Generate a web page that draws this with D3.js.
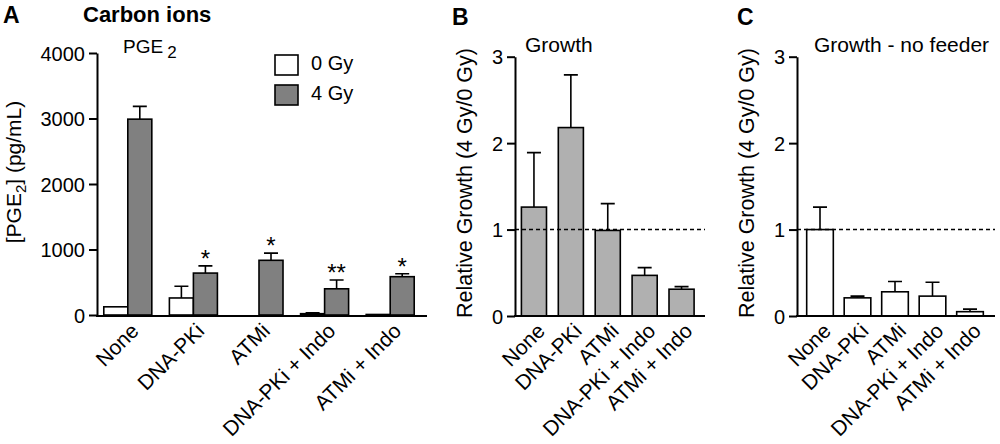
<!DOCTYPE html>
<html>
<head>
<meta charset="utf-8">
<script src="https://cdn.jsdelivr.net/npm/d3@7"></script>
<style>
  body { margin: 0; background: #fff; }
  svg text { font-family: "Liberation Sans", Arial, sans-serif; fill: #000; }
</style>
</head>
<body>
<script>
const groups = ["None", "DNA-PKi", "ATMi", "DNA-PKi + Indo", "ATMi + Indo"];

// panel A - PGE2 (pg/mL)
const pge0 = [125, 260, 0, 20, 8];
const pge0Err = [0, 180, 0, 14, 0];
const pge4 = [2990, 640, 835, 400, 585];
const pge4Err = [195, 110, 110, 135, 45];
const pgeStars = ["", "*", "*", "**", "*"];
const pgeTicks = [0, 1000, 2000, 3000, 4000];

// panel B - growth
const growth = [1.26, 2.18, 0.99, 0.47, 0.31];
const growthErr = [0.63, 0.61, 0.31, 0.09, 0.03];

// panel C - growth without feeder
const growthNF = [1.0, 0.21, 0.28, 0.23, 0.05];
const growthNFErr = [0.26, 0.02, 0.12, 0.16, 0.03];

const growthTicks = [0, 1, 2, 3];
const legendKeys = ["0 Gy", "4 Gy"];

const width = 1000, height = 444;
const svg = d3.select("body").append("svg")
    .attr("width", width)
    .attr("height", height);

const y0 = 316;

function yAxis(g, y, ticks) {
    g.call(d3.axisLeft(y).tickValues(ticks).tickFormat(d3.format("d"))
        .tickSize(8).tickSizeOuter(0).tickPadding(4))
    g.select(".domain").attr("stroke-width", 2)
    g.selectAll(".tick line").attr("stroke-width", 2)
    g.selectAll(".tick text")
        .style("font-size", "20px")
        .attr("dy", "0.36em")
}

function xLabels(x, axisX0, axisX1) {
    svg.append("line")
        .attr("x1", axisX0).attr("x2", axisX1)
        .attr("y1", y0).attr("y2", y0)
        .attr("stroke", "#000").attr("stroke-width", 2)
    svg.selectAll(null)
        .data(groups)
        .enter()
        .append("text")
        .attr("transform", d => "translate(" + (x(d) + x.bandwidth() / 2 + 7) + "," + (y0 + 11) + ") rotate(-45)")
        .attr("text-anchor", "end")
        .attr("dy", "0.35em")
        .style("font-size", "21px")
        .text(d => d)
}

// ---------- Panel A ----------
const xA = d3.scaleBand().domain(groups).range([95, 423]).paddingInner(0.268).paddingOuter(0.134);
const subA = d3.scaleBand().domain(legendKeys).range([0, xA.bandwidth()]);
const yA = d3.scaleLinear().domain([0, 4000]).range([y0 - 1, 53]);

const barsA = groups.flatMap((g, i) => [
    {g: g, k: "0 Gy", v: pge0[i], e: pge0Err[i], i: i},
    {g: g, k: "4 Gy", v: pge4[i], e: pge4Err[i], i: i}
]);
const fillA = d3.scaleOrdinal().domain(legendKeys).range(["#ffffff", "#808080"]);

// error bars behind bars
svg.selectAll(".errA")
    .data(barsA.filter(d => d.e > 0))
    .enter().append("path")
    .attr("class", "errA")
    .attr("fill", "none").attr("stroke", "#000").attr("stroke-width", 1.6)
    .attr("d", d => {
        const cx = xA(d.g) + subA(d.k) + subA.bandwidth() / 2;
        return "M" + cx + "," + yA(d.v) + "V" + yA(d.v + d.e)
            + "M" + (cx - 7) + "," + yA(d.v + d.e) + "H" + (cx + 7);
    });

svg.selectAll(".barA")
    .data(barsA.filter(d => d.v > 0))
    .enter().append("rect")
    .attr("class", "barA")
    .attr("x", d => xA(d.g) + subA(d.k))
    .attr("width", subA.bandwidth())
    .attr("y", d => yA(d.v))
    .attr("height", d => yA(0) - yA(d.v))
    .attr("fill", d => fillA(d.k))
    .attr("stroke", "#000").attr("stroke-width", 1.6)

svg.selectAll(".starA")
    .data(groups)
    .enter().append("text")
    .attr("x", (d, i) => xA(d) + subA("4 Gy") + subA.bandwidth() / 2)
    .attr("y", (d, i) => yA(pge4[i] + pge4Err[i]) + 1)
    .attr("text-anchor", "middle")
    .style("font-size", "24px")
    .text((d, i) => pgeStars[i])

svg.append("g").attr("transform", "translate(97,0)").call(g => yAxis(g, yA, pgeTicks));
xLabels(xA, 96, 427);

// legend
legendKeys.forEach((k, i) => {
    svg.append("rect")
        .attr("x", 275).attr("y", 55 + i * 30)
        .attr("width", 23).attr("height", 20)
        .attr("fill", fillA(k)).attr("stroke", "#000").attr("stroke-width", 1.6)
    svg.append("text")
        .attr("x", 311).attr("y", 70 + i * 30)
        .style("font-size", "20px")
        .text(k)
});

svg.append("text").attr("x", 3).attr("y", 23)
    .style("font-size", "23px").style("font-weight", "bold").text("A")
svg.append("text").attr("x", 83).attr("y", 22)
    .style("font-size", "22px").style("font-weight", "bold").text("Carbon ions")
const pgeTitle = svg.append("text").attr("x", 123).attr("y", 53).style("font-size", "19px")
pgeTitle.append("tspan").text("PGE")
pgeTitle.append("tspan").attr("dx", 4).attr("dy", 5).style("font-size", "17px").text("2")

const yLabA = svg.append("text")
    .attr("transform", "translate(21,172) rotate(-90)")
    .attr("text-anchor", "middle")
    .style("font-size", "21px")
yLabA.append("tspan").text("[PGE")
yLabA.append("tspan").attr("dy", 5).style("font-size", "15px").text("2")
yLabA.append("tspan").attr("dy", -5).text("] (pg/mL)")

// ---------- Panels B and C ----------
function growthPanel(opts) {
    const x = d3.scaleBand().domain(groups).range(opts.range)
        .paddingInner(opts.pad).paddingOuter(opts.pad / 2);
    const y = d3.scaleLinear().domain([0, 3]).range([y0, 56.7]);

    svg.selectAll(null)
        .data(groups)
        .enter().append("path")
        .attr("fill", "none").attr("stroke", "#000").attr("stroke-width", 1.6)
        .attr("d", (d, i) => {
            const cx = x(d) + x.bandwidth() / 2;
            const top = y(opts.vals[i] + opts.errs[i]);
            return "M" + cx + "," + y(opts.vals[i]) + "V" + top
                + "M" + (cx - 7) + "," + top + "H" + (cx + 7);
        });

    svg.selectAll(null)
        .data(groups)
        .enter().append("rect")
        .attr("x", d => x(d))
        .attr("width", x.bandwidth())
        .attr("y", (d, i) => y(opts.vals[i]))
        .attr("height", (d, i) => y(0) - y(opts.vals[i]))
        .attr("fill", opts.fill)
        .attr("stroke", "#000").attr("stroke-width", 1.6)

    svg.append("line")
        .attr("x1", opts.axisX).attr("x2", opts.axisEnd)
        .attr("y1", y(1)).attr("y2", y(1))
        .attr("stroke", "#000").attr("stroke-width", 1.5)
        .attr("stroke-dasharray", "4,3")

    svg.append("g").attr("transform", "translate(" + opts.axisX + ",0)")
        .call(g => yAxis(g, y, growthTicks));
    xLabels(x, opts.axisX - 1, opts.axisEnd);

    svg.append("text")
        .attr("transform", "translate(" + (opts.axisX - 43) + ",183) rotate(-90)")
        .attr("text-anchor", "middle")
        .style("font-size", "21.5px")
        .text("Relative Growth (4 Gy/0 Gy)")
    svg.append("text").attr("x", opts.letterX).attr("y", 25)
        .style("font-size", "23px").style("font-weight", "bold").text(opts.letter)
    svg.append("text").attr("x", opts.titleX).attr("y", 52)
        .style("font-size", "21px").text(opts.title)
}

growthPanel({
    vals: growth, errs: growthErr, range: [515.5, 700], pad: 0.32,
    fill: "#b0b0b0", axisX: 515, axisEnd: 705,
    letter: "B", letterX: 452, title: "Growth", titleX: 525
});

growthPanel({
    vals: growthNF, errs: growthNFErr, range: [801.25, 988.75], pad: 0.29,
    fill: "#ffffff", axisX: 797, axisEnd: 995,
    letter: "C", letterX: 737, title: "Growth - no feeder", titleX: 814
});
</script>
</body>
</html>
